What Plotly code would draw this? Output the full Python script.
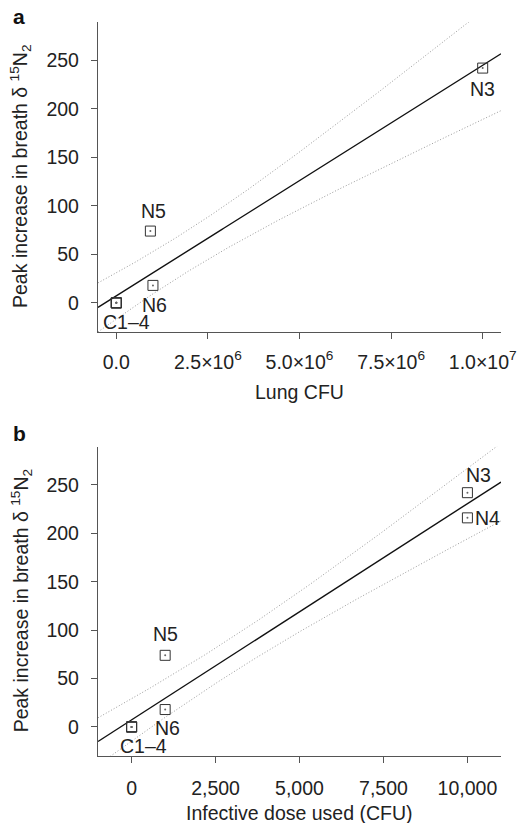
import numpy as np
import plotly.graph_objects as go

# ---------------- data ----------------
a_names = ["C1", "C2", "C3", "C4", "N5", "N6", "N3"]
a_lung_cfu = [0, 0, 0, 0, 0.93e6, 1.0e6, 1.0e7]
a_peak = [0, 0, 0, 0, 74, 18, 242]

b_names = ["C1", "C2", "C3", "C4", "N5", "N6", "N3", "N4"]
b_dose = [0, 0, 0, 0, 1000, 1000, 10000, 10000]
b_peak = [0, 0, 0, 0, 74, 18, 242, 216]

a_xrange = [-0.5e6, 10.5e6]
b_xrange = [-1000, 11000]
y_range = [-30, 289.5]

a_tickvals = [0, 2.5e6, 5e6, 7.5e6, 1e7]
a_ticktext = ["0.0", "2.5×10<sup>6</sup>", "5.0×10<sup>6</sup>", "7.5×10<sup>6</sup>", "1.0×10<sup>7</sup>"]
b_tickvals = [0, 2500, 5000, 7500, 10000]
b_ticktext = ["0", "2,500", "5,000", "7,500", "10,000"]
y_tickvals = [0, 50, 100, 150, 200, 250]

# Student t 0.975 quantiles for n-2 degrees of freedom
T_CRIT = {5: 2.5706, 6: 2.4469}

FONT = "Liberation Sans, Arial, Helvetica, sans-serif"
FS = 19.5


def fit_band(x, y, xr):
    x = np.asarray(x, float)
    y = np.asarray(y, float)
    n = len(x)
    slope, intercept = np.polyfit(x, y, 1)
    resid = y - (slope * x + intercept)
    s = np.sqrt(np.sum(resid ** 2) / (n - 2))
    mx = x.mean()
    sxx = np.sum((x - mx) ** 2)
    xs = np.linspace(xr[0], xr[1], 300)
    yh = slope * xs + intercept
    se = s * np.sqrt(1.0 / n + (xs - mx) ** 2 / sxx)
    t = T_CRIT[n - 2]
    return xs, yh, yh - t * se, yh + t * se


fig = go.Figure()


def add_panel(x, y, xr, xa, ya):
    xs, yh, lo, hi = fit_band(x, y, xr)
    for band in (lo, hi):
        fig.add_trace(go.Scatter(x=xs, y=band, mode="lines", xaxis=xa, yaxis=ya,
                                 line=dict(color="#9a9a9a", width=1, dash="1px,2px"),
                                 hoverinfo="skip", showlegend=False))
    fig.add_trace(go.Scatter(x=xs, y=yh, mode="lines", xaxis=xa, yaxis=ya,
                             line=dict(color="#111111", width=1.4),
                             hoverinfo="skip", showlegend=False))
    fig.add_trace(go.Scatter(x=x, y=y, mode="markers", xaxis=xa, yaxis=ya,
                             marker=dict(symbol="square-open", size=10,
                                         color="#333333", line=dict(width=1.0)),
                             showlegend=False))
    fig.add_trace(go.Scatter(x=x, y=y, mode="markers", xaxis=xa, yaxis=ya,
                             marker=dict(symbol="circle", size=2, color="#666666"),
                             hoverinfo="skip", showlegend=False))


add_panel(a_lung_cfu, a_peak, a_xrange, "x", "y")
add_panel(b_dose, b_peak, b_xrange, "x2", "y2")

axis_common = dict(showline=True, linecolor="#555555", linewidth=1.3,
                   ticks="outside", ticklen=6, tickwidth=1.3, tickcolor="#555555",
                   showgrid=False, zeroline=False, automargin=False,
                   tickfont=dict(family=FONT, size=FS, color="#222222"))

fig.update_layout(
    width=519, height=823,
    margin=dict(l=98, r=18, t=22, b=67, autoexpand=False),
    plot_bgcolor="white", paper_bgcolor="white",
    xaxis=dict(domain=[0, 1], anchor="y", range=a_xrange, tickvals=a_tickvals,
               ticktext=a_ticktext, ticklabelstandoff=6, **axis_common),
    yaxis=dict(domain=[0.5777, 1], anchor="x", range=y_range, tickvals=y_tickvals,
               ticklabelstandoff=8, **axis_common),
    xaxis2=dict(domain=[0, 1], anchor="y2", range=b_xrange, tickvals=b_tickvals,
                ticktext=b_ticktext, ticklabelstandoff=8, **axis_common),
    yaxis2=dict(domain=[0, 0.4214], anchor="x2", range=y_range, tickvals=y_tickvals,
                ticklabelstandoff=8, **axis_common),
)

lab_font = dict(family=FONT, size=FS, color="#222222")
ann = []
# point labels (name, x, y, xshift, yshift, xanchor)
a_label_pos = [("C1–4", 0, 0, 10, -19, "center"),
               ("N5", 0.93e6, 74, 3, 20, "center"),
               ("N6", 1.0e6, 18, 2, -20, "center"),
               ("N3", 1.0e7, 242, 0, -21, "center")]
b_label_pos = [("C1–4", 0, 0, 12, -19, "center"),
               ("N5", 1000, 74, 0, 21, "center"),
               ("N6", 1000, 18, 2, -18, "center"),
               ("N3", 10000, 242, 11, 18, "center"),
               ("N4", 10000, 216, 6, 0, "left")]
for (t, x, y, dx, dy, xa_) in a_label_pos:
    ann.append(dict(text=t, x=x, y=y, xref="x", yref="y", xshift=dx, yshift=dy,
                    xanchor=xa_, yanchor="middle", showarrow=False, font=lab_font))
for (t, x, y, dx, dy, xa_) in b_label_pos:
    ann.append(dict(text=t, x=x, y=y, xref="x2", yref="y2", xshift=dx, yshift=dy,
                    xanchor=xa_, yanchor="middle", showarrow=False, font=lab_font))

ytitle = "Peak increase in breath δ <sup>15</sup>N<sub>2</sub>"
ann.append(dict(text=ytitle, x=0, y=(0.5777 + 1) / 2, xref="paper", yref="paper",
                xshift=-77, textangle=-90, showarrow=False, font=lab_font,
                xanchor="center", yanchor="middle"))
ann.append(dict(text=ytitle, x=0, y=0.4214 / 2, xref="paper", yref="paper",
                xshift=-77, textangle=-90, showarrow=False, font=lab_font,
                xanchor="center", yanchor="middle"))
ann.append(dict(text="Lung CFU", x=0.5, y=0.5777, xref="paper", yref="paper",
                yshift=-60, showarrow=False, font=lab_font, xanchor="center", yanchor="middle"))
ann.append(dict(text="Infective dose used (CFU)", x=0.5, y=0, xref="paper", yref="paper",
                yshift=-57, showarrow=False, font=lab_font, xanchor="center", yanchor="middle"))
ann.append(dict(text="<b>a</b>", x=0, y=1, xref="paper", yref="paper",
                xshift=-79, yshift=6, showarrow=False,
                font=dict(family=FONT, size=21, color="#111111"),
                xanchor="center", yanchor="middle"))
ann.append(dict(text="<b>b</b>", x=0, y=0.4214, xref="paper", yref="paper",
                xshift=-79, yshift=13, showarrow=False,
                font=dict(family=FONT, size=21, color="#111111"),
                xanchor="center", yanchor="middle"))
fig.update_layout(annotations=ann)

fig.write_html("out.html", config={"displayModeBar": False},
               post_script="document.body.style.margin='0';document.body.style.padding='0';")
